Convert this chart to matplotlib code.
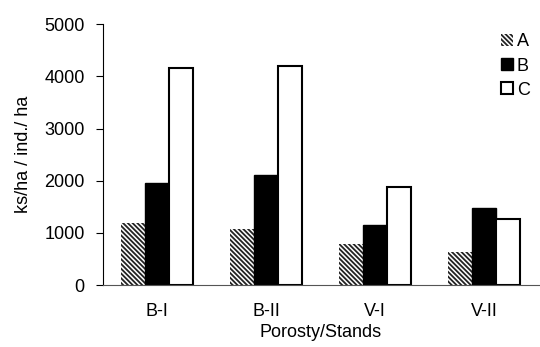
import numpy as np
import matplotlib.pyplot as plt

# data
stands = ["B-I", "B-II", "V-I", "V-II"]
series_a = [1195, 1065, 790, 640]
series_b = [1950, 2110, 1150, 1470]
series_c = [4160, 4200, 1875, 1275]
series_names = ["A", "B", "C"]

plt.rcParams["font.family"] = "Liberation Sans"
plt.rcParams["font.size"] = 13
plt.rcParams["hatch.linewidth"] = 1.3

fig = plt.figure(figsize=(5.4, 3.47), dpi=100)
ax = fig.add_axes([102.7 / 540, 1 - 285 / 347, 436 / 540, (285 - 24.3) / 347])

x = np.arange(len(stands))
w = 0.22

ax.bar(x - w, series_a, w, color="white", edgecolor="#222222", hatch="\\" * 7,
       linewidth=0, label=series_names[0])
ax.bar(x, series_b, w, color="black", edgecolor="black", linewidth=1,
       label=series_names[1])
ax.bar(x + w, series_c, w, color="white", edgecolor="black", linewidth=1.5,
       label=series_names[2])

ax.set_xlim(-0.5, len(stands) - 0.5)
ax.set_ylim(0, 5000)
ax.set_yticks(np.arange(0, 5001, 1000))
ax.set_xticks(x)
ax.set_xticklabels(stands)
ax.tick_params(axis="x", length=0, pad=13)
ax.tick_params(axis="y", length=5, direction="out", pad=8)

ax.spines["top"].set_visible(False)
ax.spines["right"].set_visible(False)
ax.spines["bottom"].set_color("#555555")

ax.set_xlabel("Porosty/Stands", labelpad=3)
ax.set_ylabel("ks/ha / ind./ ha", labelpad=9)

ax.legend(loc="upper right", frameon=False, handlelength=0.65, handleheight=0.65,
          handletextpad=0.2, labelspacing=0.4, borderpad=0,
          bbox_to_anchor=(1.0, 1.0))

fig.savefig("out.png", dpi=100)
plt.close()
